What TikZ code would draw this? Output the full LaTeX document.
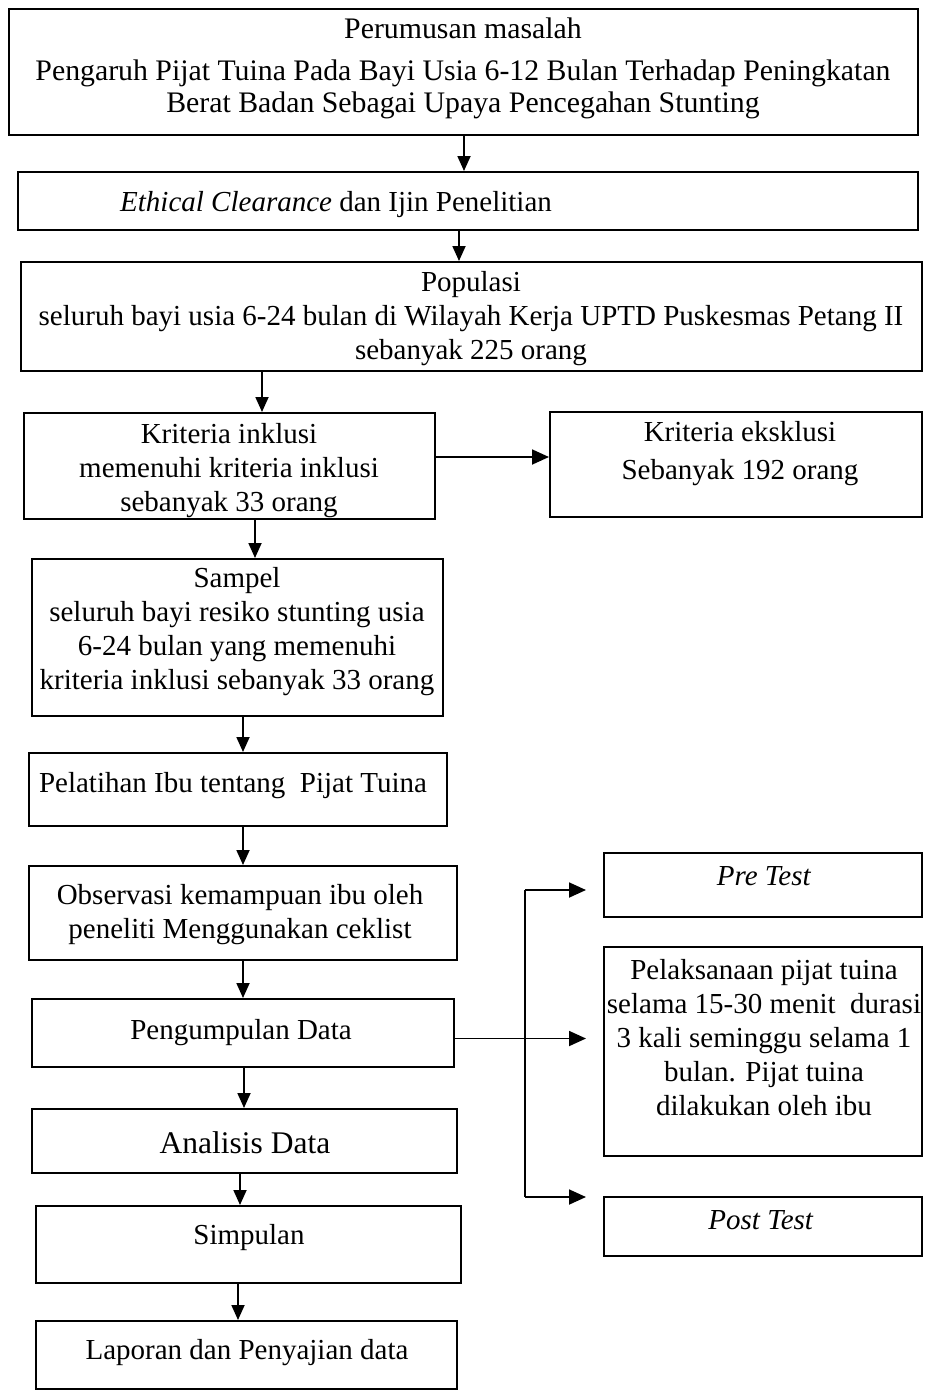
\documentclass[tikz,border=0pt]{standalone}
\usepackage{fontspec}
\setmainfont{Liberation Serif}
\usetikzlibrary{arrows.meta}
\begin{document}
\begin{tikzpicture}[x=1pt,y=-1pt,
  box/.style={draw, line width=2pt, inner sep=0pt},
  txt/.style={font=\fontsize{29}{34}\selectfont, align=center, inner sep=0pt},
  varr/.style={-{Triangle[length=15pt,width=13pt]}, line width=1.8pt},
  harr/.style={-{Triangle[length=17pt,width=15pt]}, line width=1.8pt}]
\useasboundingbox (0,0) rectangle (924,1390);

% boxes
\node[box, minimum width=909pt, minimum height=126pt] (b1) at (463.5,72) {};
\node[box, minimum width=900pt, minimum height=58pt] (b2) at (468,201) {};
\node[box, minimum width=901pt, minimum height=109pt] (b3) at (471.5,316.5) {};
\node[box, minimum width=411pt, minimum height=106pt] (b4) at (229.5,466) {};
\node[box, minimum width=372pt, minimum height=105pt] (b5) at (736,464.5) {};
\node[box, minimum width=411pt, minimum height=157pt] (b6) at (237.5,637.5) {};
\node[box, minimum width=418pt, minimum height=73pt] (b7) at (238,789.5) {};
\node[box, minimum width=428pt, minimum height=94pt] (b8) at (243,913) {};
\node[box, minimum width=422pt, minimum height=68pt] (b9) at (243,1033) {};
\node[box, minimum width=425pt, minimum height=64pt] (b10) at (244.5,1141) {};
\node[box, minimum width=425pt, minimum height=77pt] (b11) at (248.5,1244.5) {};
\node[box, minimum width=421pt, minimum height=68pt] (b12) at (246.5,1355) {};
\node[box, minimum width=318pt, minimum height=64pt] (pre) at (763,885) {};
\node[box, minimum width=318pt, minimum height=209pt] (pel) at (763,1051.5) {};
\node[box, minimum width=318pt, minimum height=59pt] (post) at (763,1226.5) {};

% texts
\node[txt, font=\fontsize{29.8}{32}\selectfont] (t1) at (463,68) {Perumusan masalah\\[10pt]Pengaruh Pijat Tuina Pada Bayi Usia 6-12 Bulan Terhadap Peningkatan\\Berat Badan Sebagai Upaya Pencegahan Stunting};
\node[txt, anchor=west] (t2) at (120,205) {\textit{Ethical Clearance} dan Ijin Penelitian};
\node[txt] (t3) at (471,319) {Populasi\\seluruh bayi usia 6-24 bulan di Wilayah Kerja UPTD Puskesmas Petang II\\sebanyak 225 orang};
\node[txt] (t4) at (229,470.5) {Kriteria inklusi\\memenuhi kriteria inklusi\\sebanyak 33 orang};
\node[txt] (t5) at (740,454) {Kriteria eksklusi\\[4pt]Sebanyak 192 orang};
\node[txt] (t6) at (237,632) {Sampel\\seluruh bayi resiko stunting usia\\6-24 bulan yang memenuhi\\kriteria inklusi sebanyak 33 orang};
\node[txt] (t7) at (233,786) {Pelatihan Ibu tentang\ \ Pijat Tuina};
\node[txt] (t8) at (240,914.5) {Observasi kemampuan ibu oleh\\peneliti Menggunakan ceklist};
\node[txt] (t9) at (241,1033) {Pengumpulan Data};
\node[txt, font=\fontsize{31.5}{36}\selectfont] (t10) at (245,1143) {Analisis Data};
\node[txt] (t11) at (249,1238) {Simpulan};
\node[txt] (t12) at (247,1353) {Laporan dan Penyajian data};
\node[txt] (tpre) at (764,876) {\textit{Pre Test}};
\node[txt] (tpel) at (764,1037.5) {Pelaksanaan pijat tuina\\selama 15-30 menit\ \ durasi\\3 kali seminggu selama 1\\bulan. Pijat tuina\\dilakukan oleh ibu};
\node[txt] (tpost) at (761,1220) {\textit{Post Test}};

% x positions of vertical connectors
\coordinate (x1) at (464,0);
\coordinate (x2) at (459,0);
\coordinate (x3) at (262,0);
\coordinate (x5) at (255,0);
\coordinate (x6) at (243,0);
\coordinate (x9) at (244,0);
\coordinate (x10) at (240,0);
\coordinate (x11) at (238,0);
\coordinate (y4) at (0,457);
\coordinate (ym) at (0,1038.5);
\coordinate (jt) at (525,890);
\coordinate (jb) at (525,1197);

\draw[varr] (b1.south -| x1) -- (b2.north -| x1);
\draw[varr] (b2.south -| x2) -- (b3.north -| x2);
\draw[varr] (b3.south -| x3) -- (b4.north -| x3);
\draw[harr] (b4.east |- y4) -- (b5.west |- y4);
\draw[varr] (b4.south -| x5) -- (b6.north -| x5);
\draw[varr] (b6.south -| x6) -- (b7.north -| x6);
\draw[varr] (b7.south -| x6) -- (b8.north -| x6);
\draw[varr] (b8.south -| x6) -- (b9.north -| x6);
\draw[varr] (b9.south -| x9) -- (b10.north -| x9);
\draw[varr] (b10.south -| x10) -- (b11.north -| x10);
\draw[varr] (b11.south -| x11) -- (b12.north -| x11);

% bracket to the right column
\draw[line width=1.8pt] (jt) -- (jb);
\draw[harr, shorten >=17pt] (jt) -- (pre.west |- jt);
\draw[harr, shorten >=17pt] (b9.east |- ym) -- (pel.west |- ym);
\draw[harr, shorten >=17pt] (jb) -- (post.west |- jb);
\end{tikzpicture}
\end{document}
